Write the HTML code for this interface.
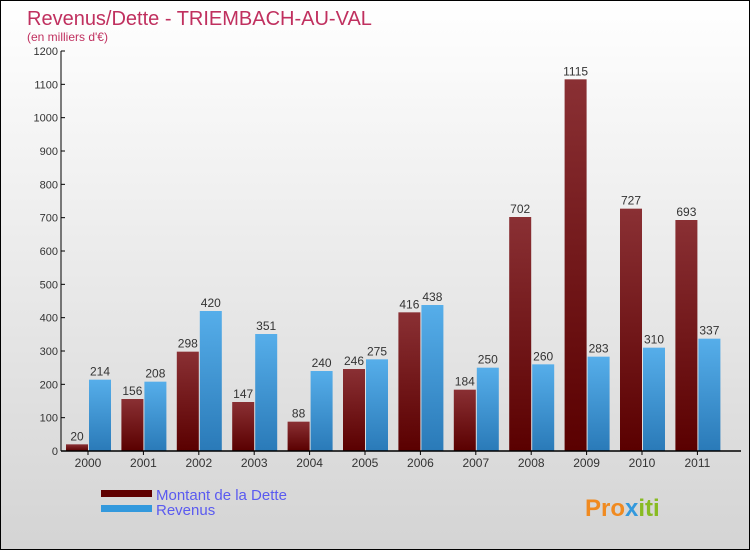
<!DOCTYPE html>
<html><head><meta charset="utf-8"><style>
body{margin:0}
#wrap{position:relative;width:750px;height:550px;background:linear-gradient(#ffffff,#d4d4d4);font-family:"Liberation Sans",sans-serif;overflow:hidden;box-sizing:border-box;border:1px solid #000}
</style></head><body>
<div id="wrap">
<svg id="chart" width="750" height="550">
<defs>
<linearGradient id="gd" x1="0" y1="0" x2="0" y2="1"><stop offset="0" stop-color="#8a3034"/><stop offset="1" stop-color="#5a0000"/></linearGradient>
<linearGradient id="gr" x1="0" y1="0" x2="0" y2="1"><stop offset="0" stop-color="#56aeea"/><stop offset="1" stop-color="#2a7ab8"/></linearGradient>
</defs>
<text x="26" y="24" font-size="20" fill="#c0305f">Revenus/Dette - TRIEMBACH-AU-VAL</text>
<text x="26" y="40" font-size="12" fill="#c0305f">(en milliers d'€)</text>
<g id="plot"></g>
<rect x="100" y="489" width="51" height="7" fill="#600000"/>
<rect x="100" y="504" width="51" height="7" fill="#3399dd"/>
<text x="155" y="499" font-size="15" fill="#5a5af0">Montant de la Dette</text>
<text x="155" y="514" font-size="15" fill="#5a5af0">Revenus</text>
<text x="584" y="515" font-size="24" font-weight="bold" fill="#f08a20">Pro<tspan fill="#3399dd">x</tspan><tspan fill="#88bb22">iti</tspan></text>
</svg>
</div>
<script>
const categories=["2000","2001","2002","2003","2004","2005","2006","2007","2008","2009","2010","2011"];
const dette=[20,156,298,147,88,246,416,184,702,1115,727,693];
const revenus=[214,208,420,351,240,275,438,250,260,283,310,337];
const yTicks=[0,100,200,300,400,500,600,700,800,900,1000,1100,1200];
const NS="http://www.w3.org/2000/svg";
const g=document.getElementById('plot');
const y0=450,yTop=50,yMax=1200,x0=60,xEnd=740,firstC=87,step=55.4,bw=22;
const Y=v=>y0-(v/yMax)*(y0-yTop);
const X=i=>firstC+i*step;
function mk(t,a){const e=document.createElementNS(NS,t);for(const k in a)e.setAttribute(k,a[k]);g.appendChild(e);return e;}
yTicks.forEach(v=>{
 const l=mk('line',{x1:x0,x2:x0+4,y1:Y(v),y2:Y(v),stroke:'#000'});
 
 
 const t=mk('text',{x:x0-3,y:Y(v)+4,'font-size':11,'text-anchor':'end',fill:'#333'});
 t.textContent=v;
 
 
});
categories.forEach((c,i)=>{
 const cx=X(i);
 const d=mk('rect',{x:cx-bw,y:Y(dette[i]),width:bw,height:y0-Y(dette[i]),fill:'url(#gd)'});
 
 
 const r=mk('rect',{x:cx+1,y:Y(revenus[i]),width:bw,height:y0-Y(revenus[i]),fill:'url(#gr)'});
 
 
 const dl=mk('text',{x:cx-bw/2,y:Y(dette[i])-4,'font-size':12,'text-anchor':'middle',fill:'#333'});
 dl.textContent=dette[i];
 
 
 const rl=mk('text',{x:cx+1+bw/2,y:Y(revenus[i])-4,'font-size':12,'text-anchor':'middle',fill:'#333'});
 rl.textContent=revenus[i];
 
 
 const tk=mk('line',{x1:cx,x2:cx,y1:y0,y2:y0+4,stroke:'#000'});
 
 
 const xl=mk('text',{x:cx,y:y0+16,'font-size':12,'text-anchor':'middle',fill:'#333'});
 xl.textContent=c;
 
 
});
const ya=mk('line',{x1:x0,x2:x0,y1:yTop,y2:y0,stroke:'#000'});


const xa=mk('line',{x1:x0,x2:xEnd,y1:y0,y2:y0,stroke:'#000','stroke-width':1.5});


</script>
</body></html>
